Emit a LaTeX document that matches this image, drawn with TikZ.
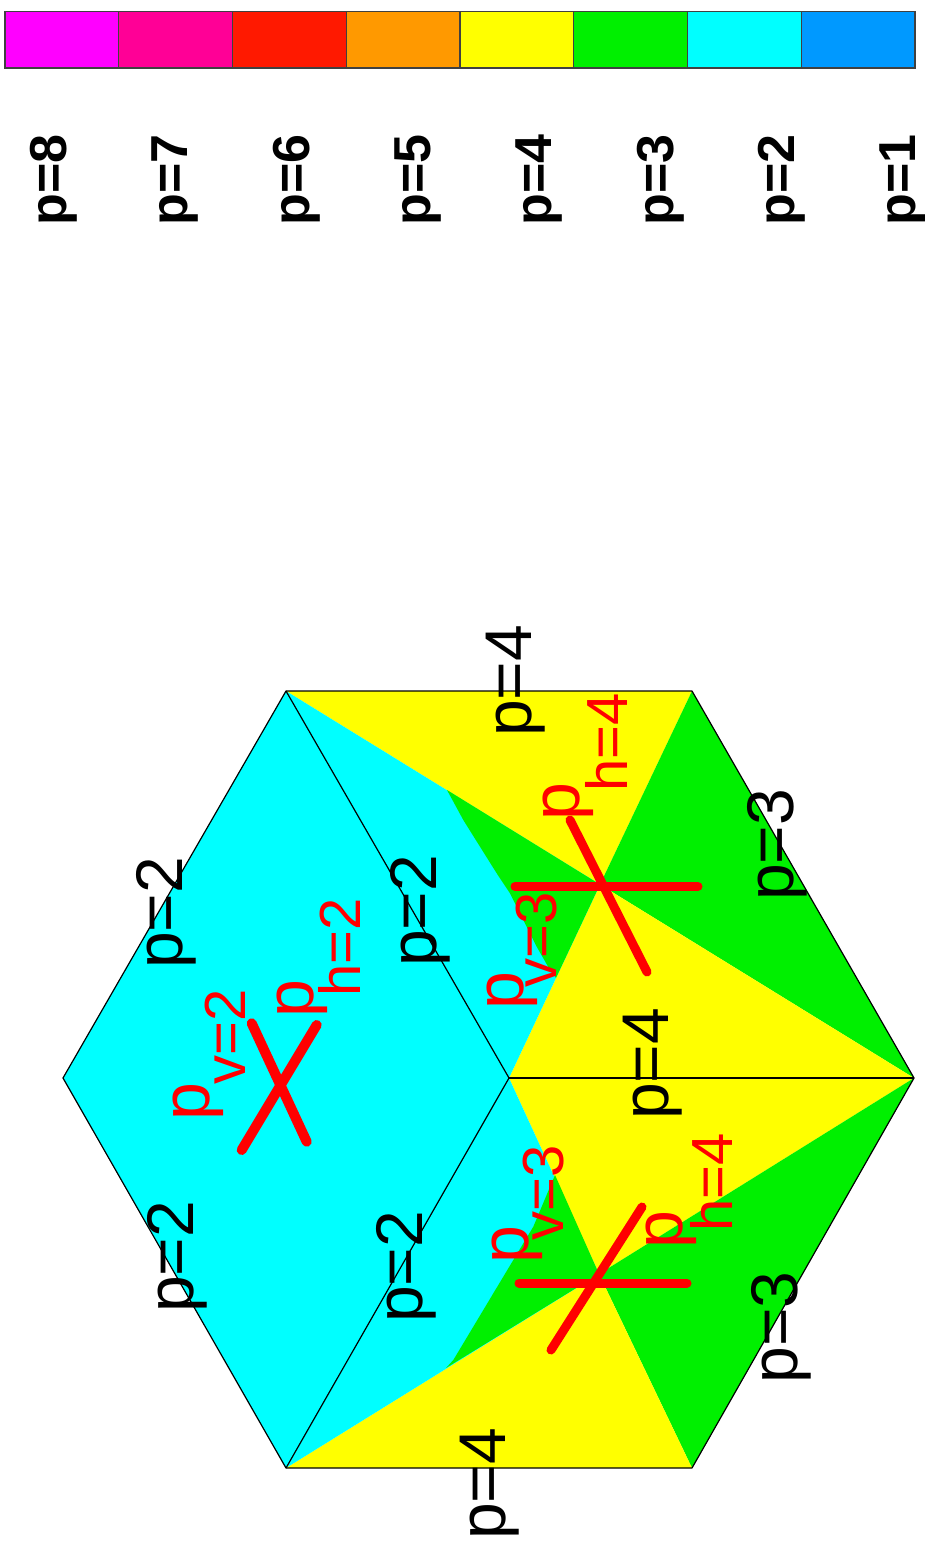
\documentclass[tikz,border=0pt]{standalone}
\usepackage{fontspec}
\setmainfont{Liberation Sans}
\definecolor{cmag}{RGB}{255,0,255}
\definecolor{cpink}{RGB}{255,0,150}
\definecolor{cred}{RGB}{255,25,0}
\definecolor{corange}{RGB}{255,153,0}
\definecolor{cyel}{RGB}{255,255,0}
\definecolor{cgreen}{RGB}{0,240,0}
\definecolor{ccyan}{RGB}{0,255,255}
\definecolor{cblue}{RGB}{0,153,255}
\definecolor{lred}{RGB}{255,0,0}
\begin{document}
\begin{tikzpicture}[x=1pt,y=-1pt,
  edgelab/.style={rotate=90, inner sep=0pt, text=black, font=\fontsize{66}{70}\selectfont},
  barlab/.style={rotate=90, inner sep=0pt, text=black, font=\fontsize{52}{56}\selectfont\bfseries},
  redp/.style={rotate=90, inner sep=0pt, text=lred, font=\fontsize{68}{72}\selectfont},
  redsub/.style={rotate=90, inner sep=0pt, text=lred, font=\fontsize{58}{62}\selectfont},
  crossline/.style={draw=lred, line width=9pt, line cap=round},
  meshedge/.style={draw=black, line width=1.2pt, line join=round},
  cell/.style={draw=black!75, line width=1.2pt}]
\useasboundingbox (0,0) rectangle (925,1554);
\fill[white] (0,0) rectangle (925,1554);

% colour bar
\foreach \c [count=\i from 0] in {cmag,cpink,cred,corange,cyel,cgreen,ccyan,cblue}
  \filldraw[cell, fill=\c] ({5+113.75*\i},11.5) rectangle ({5+113.75*(\i+1)},68);
\foreach \t [count=\i from 0] in {8,7,6,5,4,3,2,1}
  \node[barlab] (bar\t) at ({53.5+121.4*\i},180) {p=\t};

% mesh vertices
\coordinate (A) at (286,691);
\coordinate (B) at (692,691);
\coordinate (C) at (914,1078);
\coordinate (D) at (692,1468);
\coordinate (E) at (286,1468);
\coordinate (F) at (63,1078);
\coordinate (O) at (509,1078);
\coordinate (M) at (600,884.5);
\coordinate (N) at (599,1274);
\coordinate (P1) at (447,790);
\coordinate (P2) at (556,978);
\coordinate (Q1) at (555,1175);
\coordinate (Q2) at (446,1368);

% left element
\fill[ccyan] (F) -- (A) -- (O) -- (E) -- cycle;
% upper right element
\fill[cyel] (A) -- (B) -- (M) -- cycle;
\fill[cgreen] (B) -- (C) -- (M) -- cycle;
\fill[cyel] (C) -- (O) -- (M) -- cycle;
\fill[ccyan] (A) -- (M) -- (O) -- cycle;
\fill[cgreen] (M) -- (P1) -- (463.3,820) -- (480,846.7) -- (496.7,873.3) -- (510,893.3)
   -- (523.3,920) -- (536.7,946.7) -- (550,970) -- (P2) -- cycle;
% lower right element
\fill[cyel] (O) -- (C) -- (N) -- cycle;
\fill[cgreen] (C) -- (D) -- (N) -- cycle;
\fill[cyel] (D) -- (E) -- (N) -- cycle;
\fill[ccyan] (E) -- (O) -- (N) -- cycle;
\fill[cgreen] (N) -- (Q1) -- (533.3,1226.7) -- (513.3,1260) -- (493.3,1293.3)
   -- (473.3,1326.7) -- (453.3,1360) -- (Q2) -- cycle;

% mesh edges
\draw[meshedge] (A) -- (B) -- (C) -- (D) -- (E) -- (F) -- cycle;
\draw[meshedge] (A) -- (O);
\draw[meshedge] (O) -- (C);
\draw[meshedge] (O) -- (E);

% red crosses
\coordinate (l1a) at (251.7,1023.3); \coordinate (l1b) at (306.7,1141.7);
\coordinate (l2a) at (316.7,1025);   \coordinate (l2b) at (241.7,1150);
\draw[crossline, line width=10pt] (l1a) -- (l1b);
\draw[crossline, line width=10pt] (l2a) -- (l2b);
\coordinate (u1a) at (515,886.5); \coordinate (u1b) at (698,886.5);
\coordinate (u2a) at (570,820);   \coordinate (u2b) at (647,972);
\draw[crossline] (u1a) -- (u1b);
\draw[crossline] (u2a) -- (u2b);
\coordinate (d1a) at (519,1283); \coordinate (d1b) at (687,1283);
\coordinate (d2a) at (642,1207); \coordinate (d2b) at (551,1350);
\draw[crossline] (d1a) -- (d1b);
\draw[crossline] (d2a) -- (d2b);

% edge labels
\node[edgelab] (eAB) at (516,681) {p=4};
\node[edgelab] (eFA) at (166,913) {p=2};
\node[edgelab] (eFE) at (177,1257) {p=2};
\node[edgelab] (eAO) at (420,911) {p=2};
\node[edgelab] (eOE) at (406,1267) {p=2};
\node[edgelab] (eOC) at (653,1064) {p=4};
\node[edgelab] (eBC) at (777.5,845) {p=3};
\node[edgelab] (eCD) at (781,1327.5) {p=3};
\node[edgelab] (eED) at (490,1484) {p=4};

% element degree labels
\node[redp] (lpv) at (198,1101.5) {p};
\node[redsub] (lpvs) at (225,1036.5) {v=2};
\node[redp] (lph) at (302.5,999) {p};
\node[redsub] (lphs) at (339,947.5) {h=2};
\node[redp] (upv) at (512,991) {p};
\node[redsub] (upvs) at (537,940) {v=3};
\node[redp] (uph) at (568,802) {p};
\node[redsub] (uphs) at (606.5,742.5) {h=4};
\node[redp] (dpv) at (517.5,1245) {p};
\node[redsub] (dpvs) at (544,1192.5) {v=3};
\node[redp] (dph) at (671,1229.5) {p};
\node[redsub] (dphs) at (711.5,1182.5) {h=4};
\end{tikzpicture}
\end{document}
